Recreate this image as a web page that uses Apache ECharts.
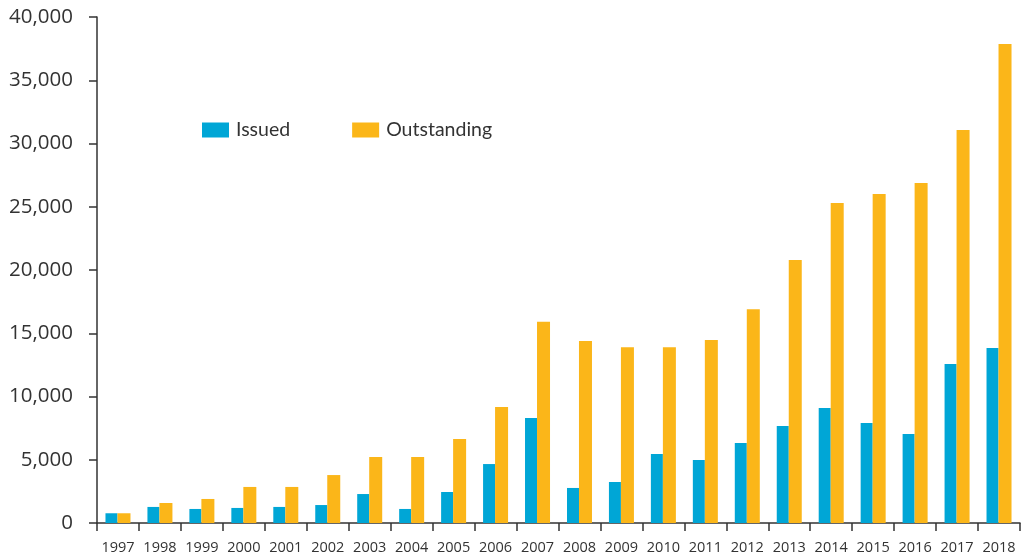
<!DOCTYPE html>
<html>
<head>
<meta charset="utf-8">
<script src="https://cdn.jsdelivr.net/npm/echarts@6/dist/echarts.min.js"></script>
<style>
    html, body { margin: 0; padding: 0; background: #fff; }
    #chart { width: 1023px; height: 560px; }
</style>
</head>
<body>
<div id="chart"></div>
<script>
var years = ["1997", "1998", "1999", "2000", "2001", "2002", "2003", "2004", "2005", "2006", "2007",
    "2008", "2009", "2010", "2011", "2012", "2013", "2014", "2015", "2016", "2017", "2018"];
var issued = [770, 1270, 1110, 1190, 1270, 1420, 2290, 1110, 2450, 4660, 8300,
    2770, 3240, 5450, 4980, 6320, 7670, 9090, 7900, 7040, 12570, 13830];
var outstanding = [770, 1580, 1900, 2850, 2850, 3790, 5220, 5220, 6640, 9170, 15900,
    14390, 13900, 13900, 14470, 16900, 20790, 25300, 26000, 26880, 31070, 37870];
var yTicks = [0, 5000, 10000, 15000, 20000, 25000, 30000, 35000, 40000];

var axisColor = "#333";

var myChart = echarts.init(document.getElementById("chart"), null, { renderer: "canvas" });

var option = {
    animation: false,
    color: ["#00A6D6", "#FBB619"],
    grid: { left: 97, right: 3, top: 17, bottom: 37 },
    legend: {
        left: 197,
        top: 115,
        itemWidth: 27,
        itemHeight: 15,
        itemGap: 62,
        icon: "rect",
        textStyle: { fontFamily: "Lato", fontSize: 19.5, color: "#333", padding: [0, 0, 0, 2] },
        data: ["Issued", "Outstanding"]
    },
    xAxis: {
        type: "category",
        data: years,
        axisLine: { lineStyle: { color: axisColor, width: 1.5 } },
        axisTick: { show: true, length: 8, lineStyle: { color: axisColor, width: 1.5 } },
        axisLabel: { fontFamily: "Open Sans", fontSize: 14.5, color: "#333", margin: 17, interval: 0 }
    },
    yAxis: {
        type: "value",
        min: 0,
        max: yTicks[yTicks.length - 1],
        interval: yTicks[1] - yTicks[0],
        splitLine: { show: false },
        axisLine: { show: true, lineStyle: { color: axisColor, width: 1.5 } },
        axisTick: { show: true, length: 8, lineStyle: { color: axisColor, width: 1.5 } },
        axisLabel: {
            fontFamily: "Open Sans", fontSize: 20.5, color: "#333", margin: 24,
            formatter: function (v) { return v.toLocaleString("en-US"); }
        }
    },
    series: [{
        name: "Issued",
        type: "bar",
        data: issued,
        barWidth: 12,
        barGap: "0%"
    }, {
        name: "Outstanding",
        type: "bar",
        data: outstanding,
        barWidth: 13,
        barGap: "0%"
    }]
};

myChart.setOption(option);
</script>
</body>
</html>
